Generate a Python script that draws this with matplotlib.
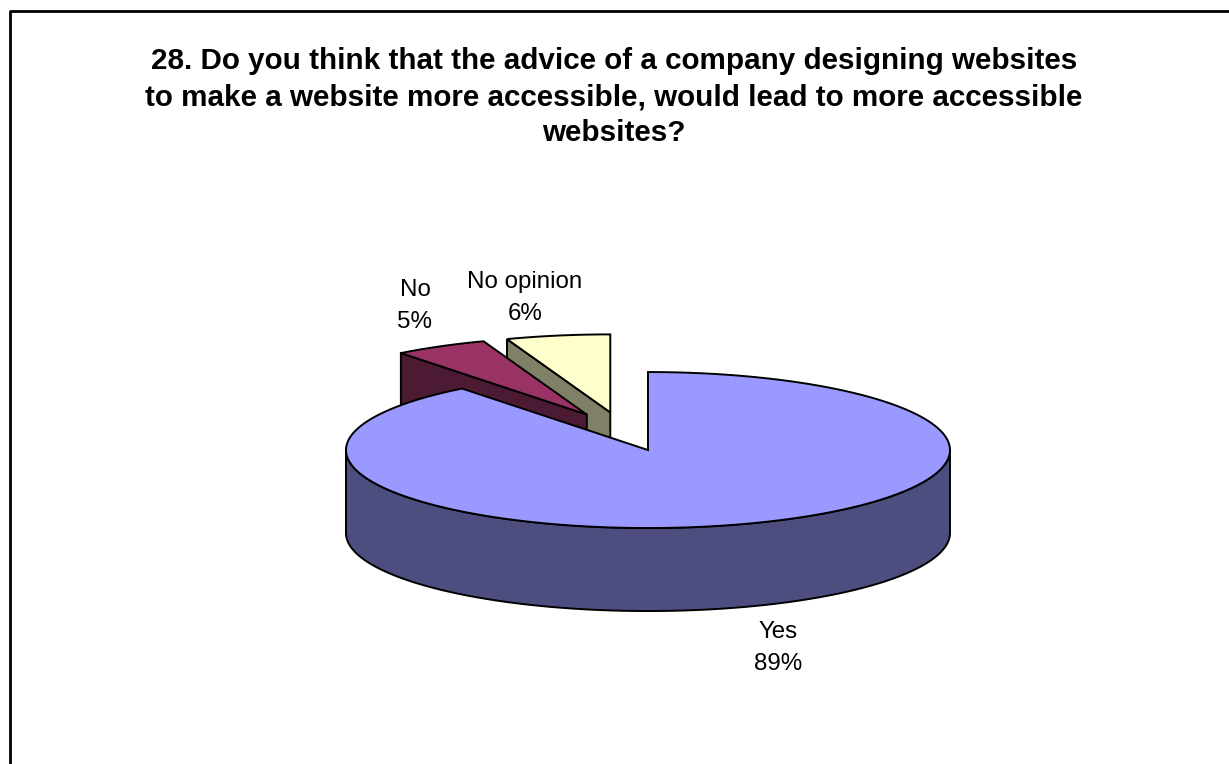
import numpy as np
import matplotlib
matplotlib.use('Agg')
import matplotlib.pyplot as plt

plt.rcParams['font.family'] = ['Liberation Sans', 'DejaVu Sans']

title = ("28. Do you think that the advice of a company designing websites\n"
         "to make a website more accessible, would lead to more accessible\n"
         "websites?")
labels = ['Yes', 'No', 'No opinion']
counts = [161, 9, 10]
top_colors = ['#9999FF', '#993366', '#FFFFCC']
wall_colors = ['#4D4D80', '#4D1A33', '#808066']
label_pos = [(778, 648), (415, 306), (525, 298)]

# pie geometry in pixels
cx, cy = 623.4, 431.6
rx, ry = 302, 78
depth = 83
explode = 0.25


def pt(t, ox, oy):
    return ox + rx * np.sin(t), oy - ry * np.cos(t)


fig = plt.figure(figsize=(12.29, 7.64), dpi=100)
ax = fig.add_axes([0, 0, 1, 1])
ax.set_xlim(0, 1229)
ax.set_ylim(764, 0)
ax.axis('off')

# chart frame, right and bottom sides are cut off in the picture
ax.plot([9.5, 9.5, 1229], [764, 11, 11], color='black', lw=2)

total = sum(counts)
ends = np.cumsum(counts) / total * 2 * np.pi
starts = ends - np.array(counts) / total * 2 * np.pi

# back slices first, Yes goes on top
for i in [2, 1, 0]:
    a, b = starts[i], ends[i]
    mid = (a + b) / 2
    ox, oy = pt(mid, cx, cy)
    ox = cx + explode * (ox - cx)
    oy = cy + explode * (oy - cy)

    t = np.linspace(a, b, 200)
    xs, ys = pt(t, ox, oy)

    # rim, only the front half shows
    front = np.linspace(max(a, np.pi / 2), min(b, 3 * np.pi / 2), 200)
    if front[-1] > front[0]:
        fx, fy = pt(front, ox, oy)
        ax.fill(np.r_[fx, fx[::-1]], np.r_[fy, fy[::-1] + depth],
                facecolor=wall_colors[i], edgecolor='black', lw=1.4, joinstyle='round')

    # cut face that looks to the viewer
    if i > 0:
        sx, sy = pt(a, ox, oy)
        ax.fill([ox, sx, sx, ox], [oy, sy, sy + depth, oy + depth],
                facecolor=wall_colors[i], edgecolor='black', lw=1.4)

    ax.fill(np.r_[ox, xs], np.r_[oy, ys], facecolor=top_colors[i],
            edgecolor='black', lw=1.4, joinstyle='miter')

ax.text(614, 97, title, ha='center', va='center', fontsize=21.3, fontweight='bold',
        linespacing=1.38, color='black')

for i in range(3):
    pct = round(counts[i] / total * 100)
    ax.text(label_pos[i][0], label_pos[i][1], f'{labels[i]}\n{pct}%', ha='center',
            va='center', fontsize=17.4, linespacing=1.55, color='black')

fig.savefig('out.png', dpi=100)
